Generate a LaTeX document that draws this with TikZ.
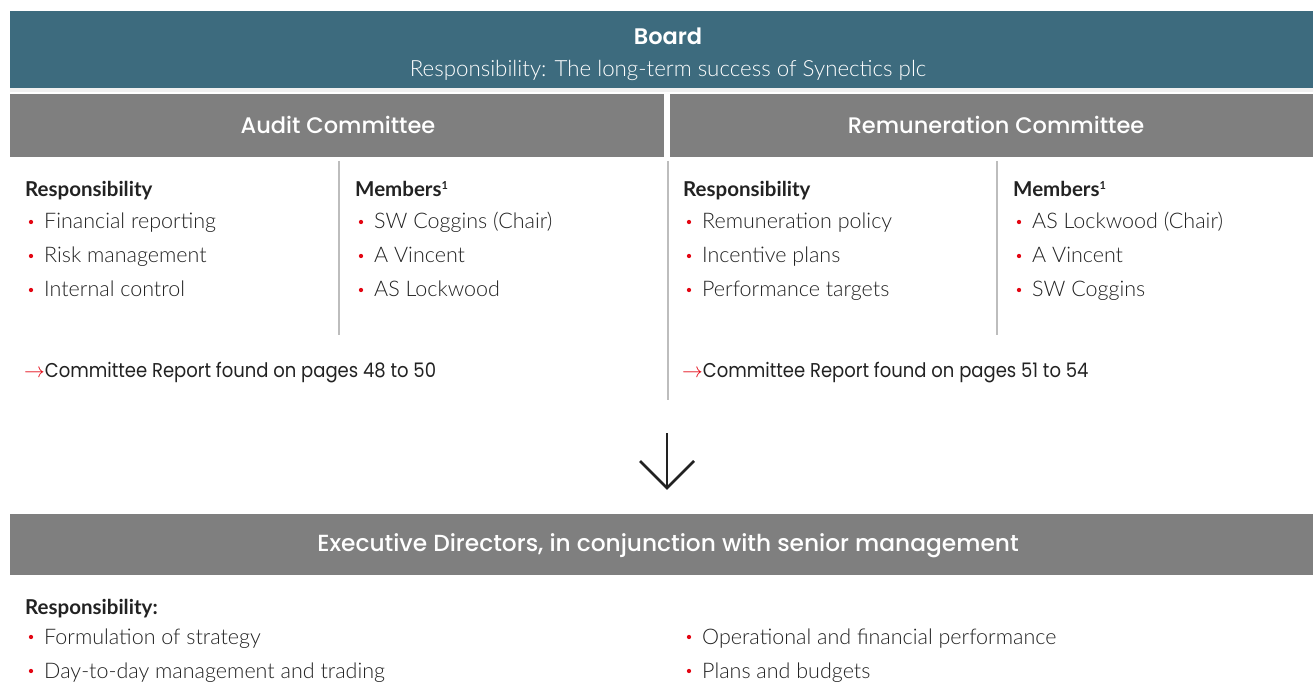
\documentclass[tikz,border=0pt]{standalone}
\usepackage{fontspec}
\IfFontExistsTF{Lato Light}
  {\setmainfont{Lato Light}}
  {\setmainfont{Lato}}
\newfontfamily\labelfont{Lato}
\newfontfamily\reffont{Poppins}
\IfFontExistsTF{Poppins Medium}
  {\newfontfamily\headfont{Poppins Medium}}
  {\newfontfamily\headfont{Poppins}}
\IfFontExistsTF{Poppins SemiBold}
  {\newfontfamily\boardfont{Poppins SemiBold}}
  {\newfontfamily\boardfont{Poppins}[UprightFont=*-Bold]}
\definecolor{teal}{HTML}{3D6B7E}
\definecolor{boxgray}{HTML}{7F7F7F}
\definecolor{txt}{HTML}{222222}
\definecolor{redb}{HTML}{E30613}
\definecolor{rule}{HTML}{BDBDBD}
\tikzset{
  x=1pt, y=-1pt,
  headtxt/.style={text=white, font=\headfont\fontsize{22.5}{24}\selectfont, anchor=base, inner sep=0pt},
  subtxt/.style={text=white, font=\fontsize{22.3}{24}\selectfont, anchor=base, inner sep=0pt},
  label/.style={text=txt, font=\labelfont\bfseries\fontsize{20.5}{22}\selectfont, anchor=base west, inner sep=0pt},
  item/.style={text=txt, font=\fontsize{21.5}{24}\selectfont, anchor=base west, inner sep=0pt},
  reftxt/.style={text=txt, font=\reffont\fontsize{20}{22}\selectfont, anchor=base west, inner sep=0pt},
  divider/.style={draw=rule, line width=1.5pt},
  dot/.style={circle, fill=redb, inner sep=0pt, minimum size=4.3pt},
}
\newcommand{\bul}[4]{% name, x, baseline y, text
  \node[dot] (#1d) at (#2,#3-7) {};
  \node[item] (#1) at (#2+13,#3) {#4};
}
\begin{document}
\begin{tikzpicture}
\useasboundingbox (0,0) rectangle (1313,700);
% Board
\fill[teal] (10,11) rectangle (1313,88);
\fill[gray!12] (10,88) rectangle (1313,92);
\node[headtxt, font=\boardfont\fontsize{22.5}{24}\selectfont] (board) at (668,45) {Board};
\node[subtxt] (boardsub) at (668,77) {Responsibility: The long-term success of Synectics plc};
% Committees
\fill[boxgray] (10,94) rectangle (664,157);
\fill[boxgray] (670,94) rectangle (1313,157);
\node[headtxt] (audit) at (338,134) {Audit Committee};
\node[headtxt] (remun) at (996,134) {Remuneration Committee};
% dividers
\draw[divider] (339,161) -- (339,335);
\draw[divider] (668,161) -- (668,400);
\draw[divider] (997,161) -- (997,335);
% Audit content
\node[label] (aresp) at (25,197) {Responsibility};
\bul{a1}{31}{229}{Financial reporting}
\bul{a2}{31}{263}{Risk management}
\bul{a3}{31}{297}{Internal control}
\node[label] (amem) at (355,197) {Members\textsuperscript{\fontsize{11}{12}\selectfont 1}};
\bul{m1}{361}{229}{SW Coggins (Chair)}
\bul{m2}{361}{263}{A Vincent}
\bul{m3}{361}{297}{AS Lockwood}
\node[reftxt] (aref) at (24,377) {\textcolor{redb}{\fontsize{21}{21}\selectfont$\rightarrow$}\scalebox{0.9}[1]{Committee Report found on pages 48 to 50}};
% Remuneration content
\node[label] (rresp) at (683,197) {Responsibility};
\bul{r1}{689}{229}{Remuneration policy}
\bul{r2}{689}{263}{Incentive plans}
\bul{r3}{689}{297}{Performance targets}
\node[label] (rmem) at (1013,197) {Members\textsuperscript{\fontsize{11}{12}\selectfont 1}};
\bul{n1}{1019}{229}{AS Lockwood (Chair)}
\bul{n2}{1019}{263}{A Vincent}
\bul{n3}{1019}{297}{SW Coggins}
\node[reftxt] (rref) at (682,377) {\textcolor{redb}{\fontsize{21}{21}\selectfont$\rightarrow$}\scalebox{0.9}[1]{Committee Report found on pages 51 to 54}};
% Down arrow
\coordinate (atop) at (667,433);
\coordinate (atip) at (667,488);
\coordinate (aleft) at (640,461);
\coordinate (aright) at (694,461);
\draw[txt, line width=2.6pt] (atop) -- (atip);
\draw[txt, line width=2.6pt, line join=miter] (aleft) -- (atip) -- (aright);
% Executive
\fill[boxgray] (10,514) rectangle (1313,575);
\node[headtxt, font=\headfont\fontsize{23.3}{25}\selectfont] (exec) at (668,551) {Executive Directors, in conjunction with senior management};
\node[label] (eresp) at (25,614) {Responsibility:};
\bul{e1}{31}{644}{Formulation of strategy}
\bul{e2}{31}{678}{Day-to-day management and trading}
\bul{e3}{689}{644}{Operational and financial performance}
\bul{e4}{689}{678}{Plans and budgets}
\end{tikzpicture}
\end{document}
